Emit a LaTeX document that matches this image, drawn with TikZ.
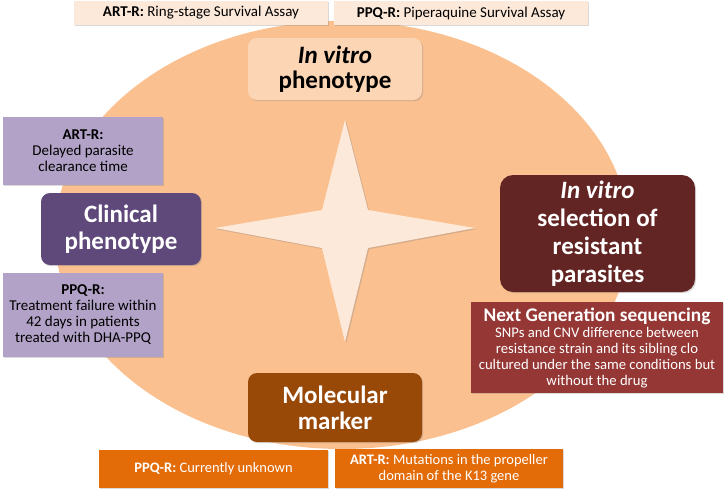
\documentclass[tikz,border=0pt]{standalone}
\usepackage{fontspec}
\setmainfont{Carlito}
\usepackage{tikz}
\usetikzlibrary{positioning}
\usetikzlibrary{shadows}
\definecolor{ovalcol}{HTML}{FAC090}
\definecolor{palecol}{HTML}{FDE9D9}
\definecolor{peachcol}{HTML}{FCD5B4}
\definecolor{lilaccol}{HTML}{B2A2C7}
\definecolor{plumcol}{HTML}{5F497A}
\definecolor{wine}{HTML}{632523}
\definecolor{brick}{HTML}{953735}
\definecolor{rust}{HTML}{984807}
\definecolor{tangerine}{HTML}{E36C09}
\tikzset{
  shadowed/.style={drop shadow={opacity=0.3,shadow xshift=1.2pt,shadow yshift=-1.2pt}},
  headbox/.style={shadowed,rounded corners=9pt,align=center,inner sep=0pt,
    font=\bfseries\fontsize{25}{25}\selectfont},
  notebox/.style={shadowed,align=center,inner sep=0pt,
    font=\fontsize{14}{16}\selectfont}
}

\begin{document}
\begin{tikzpicture}[x=1pt,y=-1pt]
\useasboundingbox (0,0) rectangle (725,493);

% Oval and star
\fill[ovalcol] (342,235) ellipse [x radius=287pt, y radius=214pt];
\fill[palecol,shadowed] (345,120) -- (368,210) -- (475,228) -- (368,248) -- (345,342)
  -- (322,248) -- (215,228) -- (322,210) -- cycle;

% In vitro phenotype
\node[notebox,fill=palecol,minimum width=254pt,minimum height=24pt,
  font=\fontsize{15}{16}\selectfont] (rsa) at (201,13)
  {\textbf{ART-R:} Ring-stage Survival Assay};
\node[notebox,fill=palecol,minimum width=254pt,minimum height=24pt,
  font=\fontsize{15}{16}\selectfont] (psa) at (461,13)
  {\textbf{PPQ-R:} Piperaquine Survival Assay};
\node[headbox,fill=peachcol,minimum width=174pt,minimum height=62pt] (vitro) at (335,69)
  {\textit{In vitro}\\phenotype};

% Clinical phenotype
\node[notebox,fill=lilaccol,minimum width=160pt,minimum height=68pt,
  font=\fontsize{15}{16}\selectfont] (delay) at (83,151)
  {\textbf{ART-R:}\\Delayed parasite\\clearance time};
\node[headbox,fill=plumcol,text=white,minimum width=160pt,minimum height=72pt,
  font=\bfseries\fontsize{25}{27}\selectfont] (clinic) at (121,229)
  {Clinical\\phenotype};
\node[notebox,fill=lilaccol,minimum width=160pt,minimum height=84pt,
  font=\fontsize{15}{16}\selectfont] (failure) at (83,315)
  {\textbf{PPQ-R:}\\Treatment failure within\\42 days in patients\\treated with DHA-PPQ};

% Selection of resistant parasites
\node[headbox,fill=wine,text=white,rounded corners=13pt,minimum width=195pt,minimum height=117pt,
  font=\bfseries\fontsize{25}{28}\selectfont] (select) at (597.5,233.5)
  {\textit{In vitro}\\selection of\\resistant\\parasites};
\node[notebox,fill=brick,text=white,minimum width=252pt,minimum height=91pt,
  font=\fontsize{14.7}{16}\selectfont] (ngs) at (597,347.5)
  {{\bfseries\fontsize{19.3}{21}\selectfont Next Generation sequencing}\\
   SNPs and CNV difference between\\resistance strain and its sibling clo\\
   cultured under the same conditions but\\without the drug};

% Molecular marker
\node[headbox,fill=rust,text=white,minimum width=174pt,minimum height=69pt,
  font=\bfseries\fontsize{25}{26}\selectfont] (marker) at (335,407.5)
  {Molecular\\marker};
\node[notebox,fill=tangerine,text=white,minimum width=229pt,minimum height=38pt,
  font=\fontsize{14.5}{16}\selectfont] (unknown) at (213.5,468.5)
  {\textbf{PPQ-R:} Currently unknown};
\node[notebox,fill=tangerine,text=white,minimum width=228pt,minimum height=39pt,
  font=\fontsize{14.5}{16}\selectfont] (kelch) at (449,468.5)
  {\textbf{ART-R:} Mutations in the propeller\\domain of the K13 gene};

\end{tikzpicture}
\end{document}
